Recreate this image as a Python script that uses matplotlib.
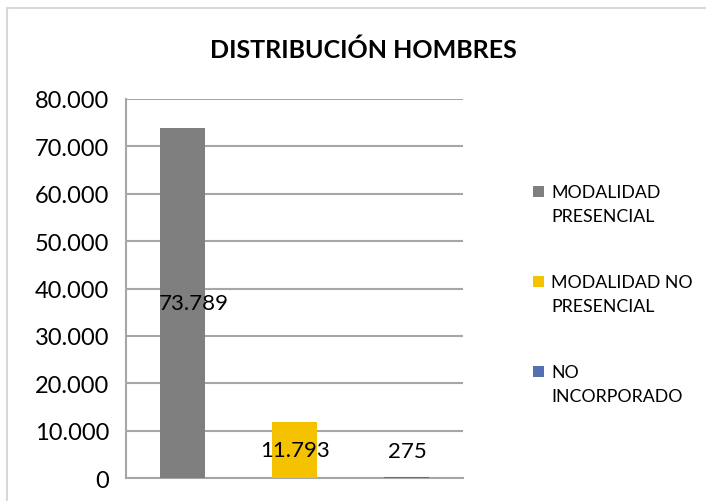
import matplotlib
matplotlib.use('Agg')
import matplotlib.pyplot as plt
from matplotlib.patches import Rectangle
from matplotlib.ticker import FuncFormatter

plt.rcParams['font.family'] = ['Lato', 'DejaVu Sans']

categorias = ['MODALIDAD\nPRESENCIAL', 'MODALIDAD NO\nPRESENCIAL', 'NO\nINCORPORADO']
valores = [73789, 11793, 275]
colores = ['#7F7F7F', '#F5C200', '#5470B4']
yticks = [0, 10000, 20000, 30000, 40000, 50000, 60000, 70000, 80000]


def miles(v, pos=None):
    return '{:,.0f}'.format(v).replace(',', '.')


fig = plt.figure(figsize=(7.06, 5.02), dpi=100)
fig.patches.append(Rectangle((7 / 706, -0.1), 1.1, 1 - 9 / 502 + 0.1, transform=fig.transFigure,
                             fill=False, edgecolor='#D9D9D9', linewidth=1.5))

ax = fig.add_axes([0.1785, 0.0458, 0.4775, 0.755])
x = range(len(valores))
barras = ax.bar(x, valores, width=0.4, color=colores, zorder=3)

ax.set_xlim(-0.5, 2.5)
ax.set_ylim(0, 80000)
ax.set_yticks(yticks)
ax.yaxis.set_major_formatter(FuncFormatter(miles))
ax.set_xticks([])
ax.tick_params(axis='y', length=0, labelsize=17, pad=12)
ax.grid(axis='y', color='#A6A6A6', linewidth=1.5, zorder=0)
for s in ['top', 'right']:
    ax.spines[s].set_visible(False)
for s in ['left', 'bottom']:
    ax.spines[s].set_color('#A6A6A6')
    ax.spines[s].set_linewidth(1.5)

for i, v in enumerate(valores):
    ax.text(i + (0.1 if i == 0 else 0), max(v / 2, 5700), miles(v), ha='center', va='center',
            fontsize=16, zorder=4)

fig.text(363 / 706, 1 - 50 / 502, 'DISTRIBUCIÓN HOMBRES', ha='center', va='center',
         fontsize=18, fontweight='bold')

# leyenda a mano: cuadro alineado con la primera línea del texto
for i, (cat, col) in enumerate(zip(categorias, colores)):
    y0 = 1 - (192 + 90 * i) / 502
    fig.patches.append(Rectangle((533 / 706, y0 - 6 / 502), 11 / 706, 11 / 502,
                                 transform=fig.transFigure, facecolor=col, edgecolor='none'))
    fig.text(551 / 706, y0 + 7 / 502, cat, ha='left', va='top', fontsize=12.8,
             linespacing=1.6)

fig.savefig('out.png', dpi=100)
